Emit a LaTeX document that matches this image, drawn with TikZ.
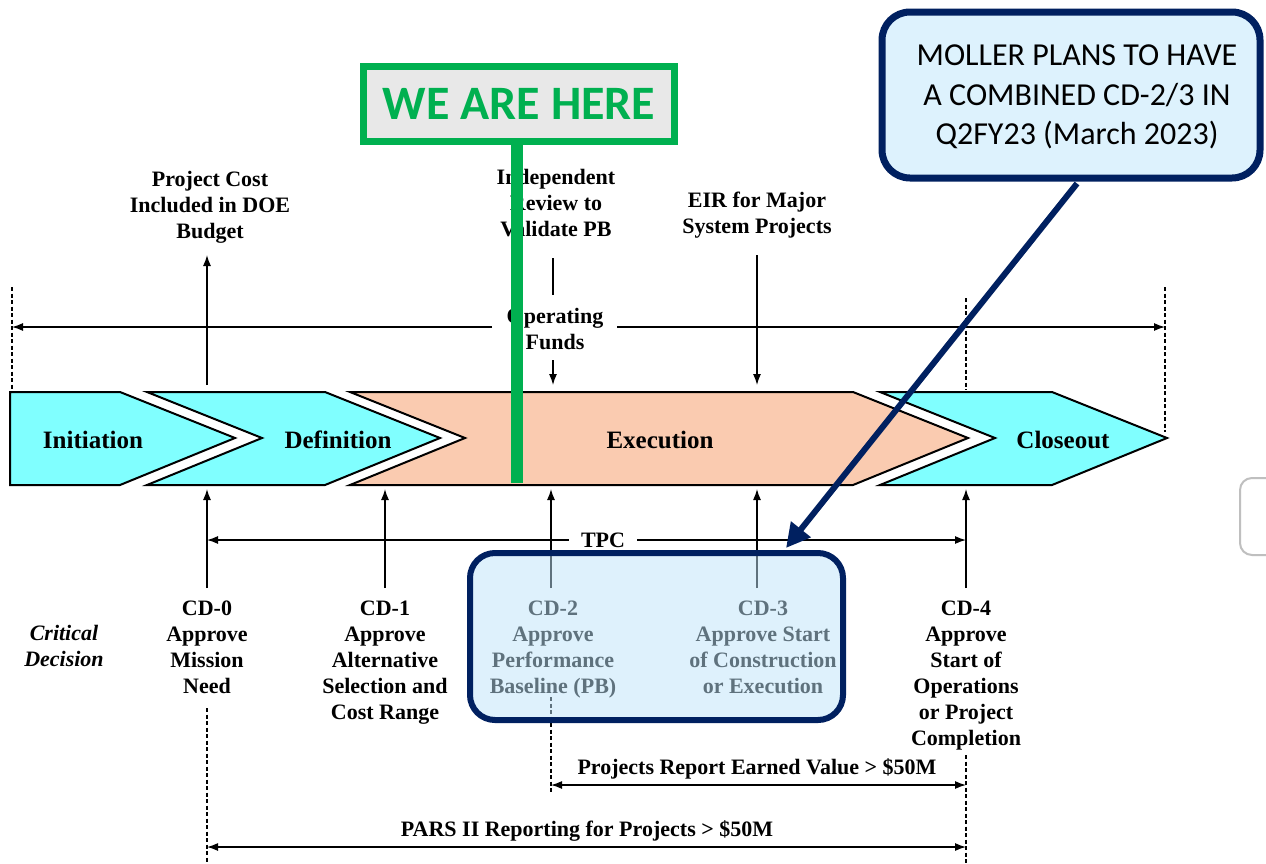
\documentclass[tikz,border=0pt]{standalone}
\usepackage{fontspec}
\setmainfont{Liberation Serif}
\newfontfamily\calibri{Carlito}
\usetikzlibrary{arrows.meta}
\definecolor{cyanfill}{RGB}{128,255,255}
\definecolor{peach}{RGB}{250,203,176}
\definecolor{navy}{RGB}{0,32,96}
\definecolor{lightblue}{RGB}{221,242,253}
\definecolor{overlayblue}{RGB}{190,228,250}
\definecolor{signgreen}{RGB}{0,176,80}
\definecolor{signgray}{RGB}{232,232,232}
\begin{document}
\begin{tikzpicture}[x=1pt,y=-1pt,
  lbl/.style={font=\fontsize{22}{26}\selectfont\bfseries, align=center, inner sep=0pt, anchor=north},
  phase/.style={font=\fontsize{25}{28}\selectfont\bfseries, inner sep=0pt},
  arr/.style={line width=1.3pt, -{Latex[length=11pt,width=8pt]}},
  darr/.style={line width=1.3pt, {Latex[length=11pt,width=8pt]}-{Latex[length=11pt,width=8pt]}},
  dline/.style={line width=1.3pt, dash pattern=on 4pt off 2.5pt},
  chev/.style={draw=black, line width=2pt, line join=miter},
  plain/.style={line width=1.3pt},
  txt/.style={font=\fontsize{22}{26}\selectfont\bfseries, inner sep=0pt}]
\useasboundingbox (0,0) rectangle (1266,863);
\fill[white] (0,0) rectangle (1266,863);

% top line and dashed verticals
\coordinate (tl) at (12,327);
\coordinate (tr) at (1165,327);
\coordinate (tgl) at (492,327);
\coordinate (tgr) at (617,327);
\draw[arr] (tgl) -- (tl);
\draw[arr] (tgr) -- (tr);
\coordinate (dl1) at (12,287); \coordinate (dl2) at (12,390);
\coordinate (dr1) at (1165,287); \coordinate (dr2) at (1165,432);
\coordinate (dc1) at (966,298); \coordinate (dc2) at (966,390);
\draw[dline] (dl1) -- (dl2);
\draw[dline] (dr1) -- (dr2);
\draw[dline] (dc1) -- (dc2);

% upper arrows
\coordinate (pc1) at (207,385); \coordinate (pc2) at (207,255);
\draw[arr] (pc1) -- (pc2);
\coordinate (ir1) at (553,258); \coordinate (ir2) at (553,295);
\draw[plain] (ir1) -- (ir2);
\coordinate (of1) at (553,360); \coordinate (of2) at (553,385);
\draw[arr] (of1) -- (of2);
\coordinate (eir1) at (757,255); \coordinate (eir2) at (757,385);
\draw[arr] (eir1) -- (eir2);

% chevrons
\draw[chev, fill=cyanfill] (10,392) -- (120,392) -- (235,438) -- (120,485) -- (10,485) -- cycle;
\draw[chev, fill=cyanfill] (147,392) -- (325,392) -- (440,438) -- (325,485) -- (147,485) -- (262,438) -- cycle;
\draw[chev, fill=peach] (350,392) -- (853,392) -- (968,438) -- (853,485) -- (350,485) -- (465,438) -- cycle;
\draw[chev, fill=cyanfill] (880,392) -- (1052,392) -- (1167,438) -- (1052,485) -- (880,485) -- (995,438) -- cycle;
\node[phase] (pinit) at (93,440) {Initiation};
\node[phase] (pdef) at (338,440) {Definition};
\node[phase] (pexec) at (660,440) {Execution};
\node[phase] (pclose) at (1063,440) {Closeout};

% lower arrows
\foreach \n/\x in {a/207,b/385,c/551,d/757,e/966}{
  \coordinate (lo\n) at (\x,588);
  \coordinate (hi\n) at (\x,489);
  \draw[arr] (lo\n) -- (hi\n);
}
\node[txt] (tpc) at (603,540) {TPC};
\coordinate (tpl) at (207,540); \coordinate (tpr) at (966,540);
\draw[arr] (tpc.west) ++(-12,0) coordinate (tpa) -- (tpl);
\draw[arr] (tpc.east) ++(12,0) coordinate (tpb) -- (tpr);

% upper labels
\node[lbl] (pcost) at (210,171) {Project Cost\\Included in DOE\\Budget};
\node[lbl] (irev) at (556,169) {Independent\\Review to\\Validate PB};
\node[lbl] (eir) at (757,192) {EIR for Major\\System Projects};
\node[lbl, fill=white, inner xsep=3pt] (opf) at (555,308) {Operating\\Funds};

% CD labels
\node[lbl, font=\fontsize{22}{26}\selectfont\bfseries\itshape] (crit) at (64,625) {Critical\\Decision};
\node[lbl] (cd0) at (207,601) {CD-0\\Approve\\Mission\\Need};
\node[lbl] (cd1) at (385,601) {CD-1\\Approve\\Alternative\\Selection and\\Cost Range};
\node[lbl] (cd2) at (553,601) {CD-2\\Approve\\Performance\\Baseline (PB)};
\node[lbl] (cd3) at (763,601) {CD-3\\Approve Start\\of Construction\\or Execution};
\node[lbl] (cd4) at (966,601) {CD-4\\Approve\\Start of\\Operations\\or Project\\Completion};

% bottom dashed and reporting arrows
\coordinate (b0a) at (207,708); \coordinate (b0b) at (207,863);
\coordinate (b2a) at (551,697); \coordinate (b2b) at (551,792);
\coordinate (b4a) at (966,755); \coordinate (b4b) at (966,863);
\draw[dline] (b0a) -- (b0b);
\draw[dline] (b2a) -- (b2b);
\draw[dline] (b4a) -- (b4b);
\coordinate (ev1) at (551,785); \coordinate (ev2) at (966,785);
\draw[darr] (ev1) -- (ev2);
\node[txt] (evt) at (757,769) {Projects Report Earned Value > \$50M};
\coordinate (pr1) at (207,847); \coordinate (pr2) at (966,847);
\draw[darr] (pr1) -- (pr2);
\node[txt] (prt) at (587,831) {PARS II Reporting for Projects > \$50M};

% CD-2/3 highlight box
\fill[overlayblue, fill opacity=0.5, rounded corners=25pt] (470,553) rectangle (843,720);
\draw[line width=6pt, draw=navy, rounded corners=25pt] (470,553) rectangle (843,720);

% WE ARE HERE sign
\coordinate (bar1) at (517,145); \coordinate (bar2) at (517,483);
\draw[line width=12pt, signgreen] (bar1) -- (bar2);
\node[draw=signgreen, line width=7pt, fill=signgray, minimum width=311pt, minimum height=75pt, inner sep=0pt,
  font=\calibri\bfseries\fontsize{48}{52}\selectfont, text=signgreen] (sign) at (519,104) {WE ARE HERE};

% callout
\node[draw=navy, line width=7pt, fill=lightblue, rounded corners=28pt, minimum width=378pt, minimum height=166pt,
  inner sep=0pt] (callout) at (1071,95) {};
\node[align=center, inner sep=0pt, font=\calibri\fontsize{32}{39.5}\selectfont] (callouttxt) at (1077,97)
  {MOLLER PLANS TO HAVE\\A COMBINED CD-2/3 IN\\Q2FY23 (March 2023)};
\coordinate (ptr) at (786,548);
\draw[line width=6pt, navy, -{Triangle[length=24pt,width=24pt]}] (callout.south) ++(6,2) -- (ptr);

% partial gray box at right edge
\draw[line width=2pt, draw=black!25, rounded corners=12pt] (1240,478) rectangle (1300,555);
\end{tikzpicture}
\end{document}
